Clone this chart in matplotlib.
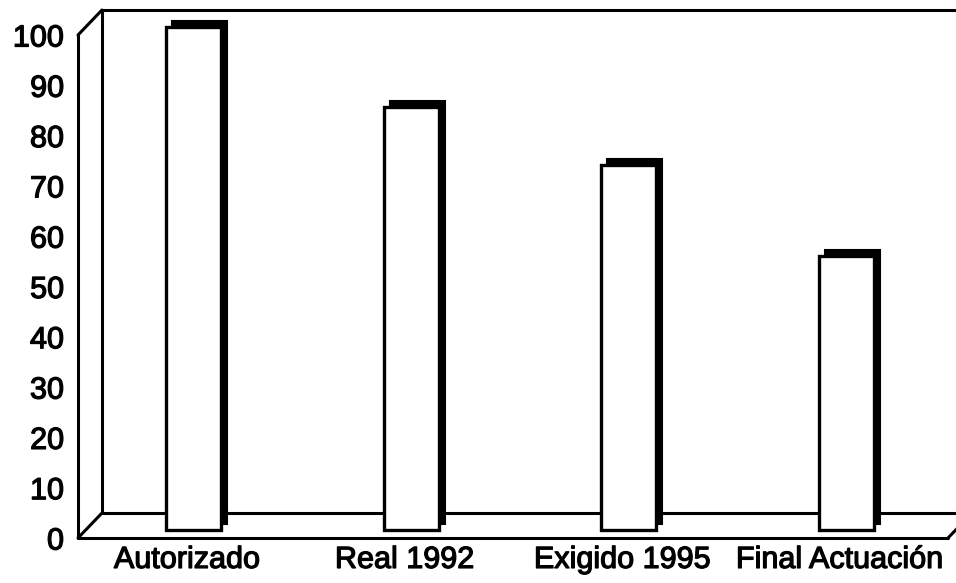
import matplotlib
matplotlib.use("Agg")
import matplotlib.pyplot as plt
import matplotlib.transforms as mtransforms
import matplotlib.patheffects as pe

categories = ["Autorizado", "Real 1992", "Exigido 1995", "Final Actuación"]
values = [100, 84, 72.5, 54.5]
yticks = [0, 10, 20, 30, 40, 50, 60, 70, 80, 90, 100]

plt.rcParams['font.family'] = ['Liberation Sans', 'DejaVu Sans']

W, H, DPI = 956, 583, 100
fig = plt.figure(figsize=(W / DPI, H / DPI), dpi=DPI)
fig.patch.set_facecolor("white")

ax_left, ax_right = 78, 948
ax_bottom_px, ax_top_px = 538, 35
ax = fig.add_axes([ax_left / W, (H - ax_bottom_px) / H,
                   (ax_right - ax_left) / W, (ax_bottom_px - ax_top_px) / H])
ax.set_xlim(-0.5, 3.5)
ax.set_ylim(0, 100)
for s in ax.spines.values():
    s.set_visible(False)
ax.set_facecolor("none")


def off(dx, dy):
    return ax.transData + mtransforms.ScaledTranslation(dx / DPI, dy / DPI, fig.dpi_scale_trans)


depth = (24, 25)
back = off(*depth)
lw_wall = 2.2
kw = dict(color="black", lw=lw_wall, clip_on=False, solid_capstyle="round")

x0, x1 = -0.5, 3.5
# front floor edge and left front edge
ax.plot([x0, x1], [0, 0], **kw)
ax.plot([x0, x0], [0, 100], **kw)
# back wall edges
ax.plot([x0, x1 + 0.2], [0, 0], transform=back, **kw)
ax.plot([x0, x0], [0, 100], transform=back, **kw)
ax.plot([x0, x1 + 0.2], [100, 100], transform=back, **kw)
# diagonals
for xv, yv in [(x0, 0), (x0, 100), (x1, 0)]:
    p0 = ax.transData.transform((xv, yv))
    ax.plot([p0[0], p0[0] + depth[0]], [p0[1], p0[1] + depth[1]],
            transform=None, **kw)

# bars at mid-depth
xs = list(range(len(categories)))
bw = 0.255
mid = (7, 8)
shade = ax.bar(xs, values, width=bw, color="black", edgecolor="black", lw=1.5, zorder=3)
for b in shade:
    b.set_transform(off(mid[0] + 6, mid[1] + 6))
    b.set_clip_on(False)
front = ax.bar(xs, values, width=bw, color="white", edgecolor="black", lw=2.4, zorder=4)
for b in front:
    b.set_transform(off(*mid))
    b.set_clip_on(False)

ax.set_yticks(yticks)
ax.set_yticklabels([str(t) for t in yticks])
ax.set_xticks(xs)
ax.set_xticklabels(categories)
ax.tick_params(axis="y", length=0, pad=10, labelsize=22)
ax.tick_params(axis="x", length=0, pad=5, labelsize=22)
for t in ax.get_xticklabels() + ax.get_yticklabels():
    t.set_path_effects([pe.withStroke(linewidth=0.9, foreground="black")])

fig.savefig("out.png", dpi=DPI, facecolor="white")
